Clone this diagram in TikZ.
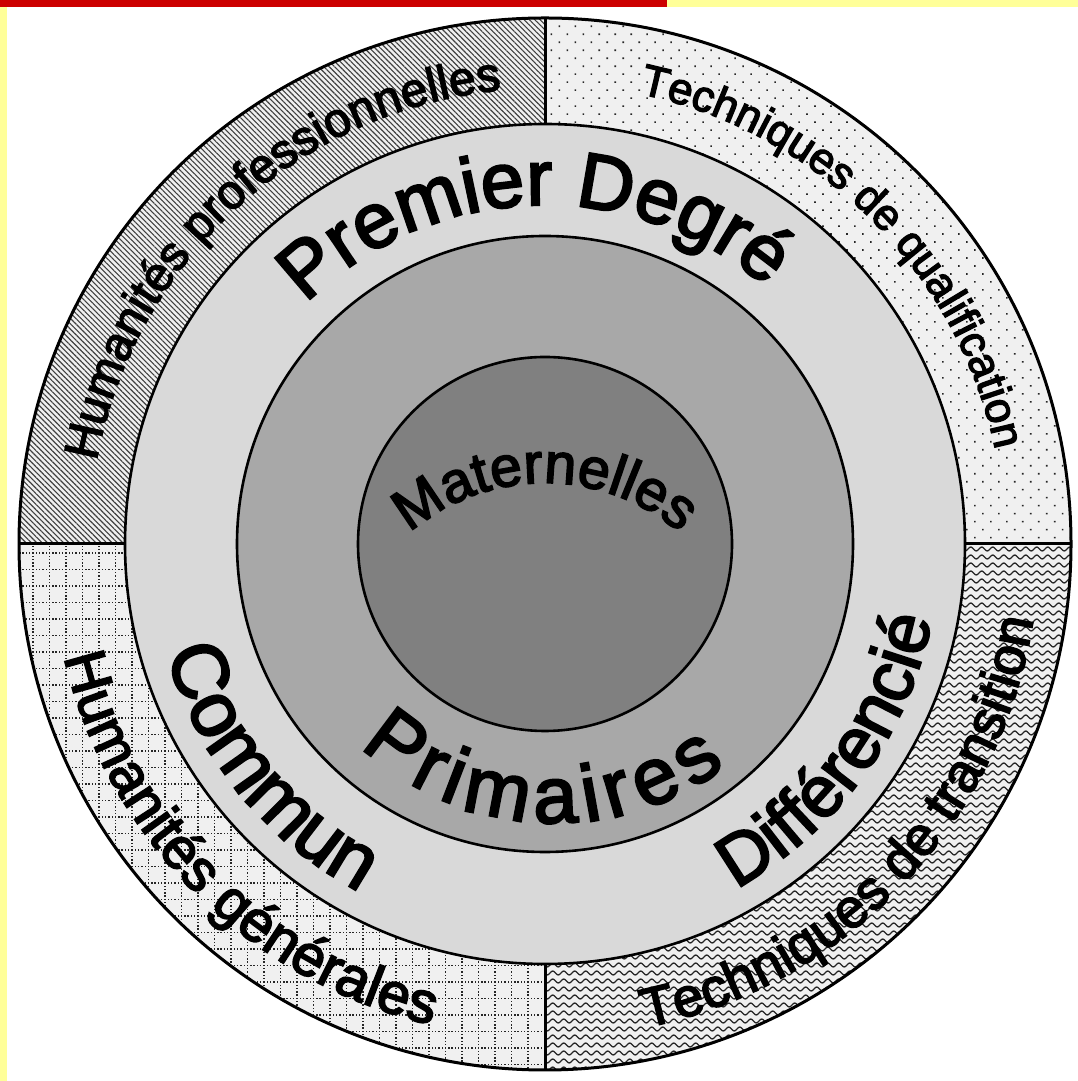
\documentclass[tikz,border=0pt]{standalone}
\usepackage{fontspec}
\setmainfont{Liberation Sans}
\newfontfamily\diagfont{Liberation Sans}[FakeBold=3]
\usetikzlibrary{decorations.text,patterns.meta}

\definecolor{ringlight}{HTML}{D9D9D9}
\definecolor{ringmid}{HTML}{A8A8A8}
\definecolor{ringdark}{HTML}{808080}
\definecolor{quadbg}{HTML}{F0F0F0}
\definecolor{barred}{HTML}{CC0000}
\definecolor{baryellow}{HTML}{FFFF99}

\newcommand\fontOuterA{\diagfont\fontsize{48}{50}\selectfont}
\newcommand\fontOuterB{\diagfont\fontsize{44}{50}\selectfont}
\newcommand\fontOuterC{\diagfont\fontsize{58}{60}\selectfont}
\newcommand\fontOuterD{\diagfont\fontsize{55}{58}\selectfont}
\newcommand\fontMidRing{\diagfont\fontsize{78}{80}\selectfont}
\newcommand\fontDiff{\diagfont\fontsize{72}{80}\selectfont}
\newcommand\fontPrim{\diagfont\fontsize{80}{84}\selectfont}
\newcommand\fontInner{\diagfont\fontsize{57}{60}\selectfont}

\tikzdeclarepattern{
  name=wavy, type=uncolored,
  bounding box={(-1pt,-1pt) and (12pt,9pt)},
  tile size={(11pt,8pt)},
  code={\draw[line width=1.3pt] (0,4pt) sin (2.75pt,6pt) cos (5.5pt,4pt) sin (8.25pt,2pt) cos (11pt,4pt);}
}
\tikzdeclarepattern{
  name=dotgrid, type=uncolored,
  bounding box={(-1pt,-1pt) and (17.5pt,17.5pt)},
  tile size={(16.5pt,16.5pt)},
  code={\foreach \i in {0,1,2,3,4}{\fill (\i*3.3pt-0.7pt,-0.7pt) rectangle ++(1.4pt,1.4pt); \fill (-0.7pt,\i*3.3pt-0.7pt) rectangle ++(1.4pt,1.4pt);}}
}

\tikzset{
  ringline/.style={line width=2.6pt},
  outerline/.style={line width=3pt},
  divider/.style={line width=3pt},
  quad/.style={preaction={fill=quadbg}, pattern color=black!85},
  primchar/.style={font=\fontPrim, anchor=base, inner sep=0pt, outer sep=0pt},
}

\begin{document}
\begin{tikzpicture}[x=1pt,y=1pt]
\useasboundingbox (0,0) rectangle (1078,1081);
\fill[white] (0,0) rectangle (1078,1081);
% border bars
\fill[barred] (0,1074) rectangle (667,1081);
\fill[baryellow] (667,1074) rectangle (1078,1081);
\fill[baryellow] (0,0) rectangle (7,1074);

\begin{scope}[shift={(545pt,537pt)}]
  \coordinate (O) at (0,0);
  % quadrants of outer ring
  \path[quad, pattern={Lines[angle=-45,distance=3.8pt,line width=1.1pt]}, pattern color=black!75]
    (O) -- (90:526pt) arc[start angle=90,end angle=180,radius=526pt] -- cycle;
  \path[quad, pattern={Dots[distance=11.3pt,angle=45,radius=1.1pt]}]
    (O) -- (0:526pt) arc[start angle=0,end angle=90,radius=526pt] -- cycle;
  \path[quad, pattern=dotgrid]
    (O) -- (180:526pt) arc[start angle=180,end angle=270,radius=526pt] -- cycle;
  \path[quad, pattern=wavy]
    (O) -- (270:526pt) arc[start angle=270,end angle=360,radius=526pt] -- cycle;
  \draw[outerline] (O) circle (526pt);
  % dividers
  \coordinate (dN1) at (90:418pt);  \coordinate (dN2) at (90:526pt);
  \coordinate (dS1) at (270:418pt); \coordinate (dS2) at (270:526pt);
  \coordinate (dW1) at (180:418pt); \coordinate (dW2) at (180:526pt);
  \coordinate (dE1) at (0:418pt);   \coordinate (dE2) at (0:526pt);
  \draw[divider] (dN1) -- (dN2);
  \draw[divider] (dS1) -- (dS2);
  \draw[divider] (dW1) -- (dW2);
  \draw[divider] (dE1) -- (dE2);
  % disks
  \draw[ringline, fill=ringlight] (O) circle (420pt);
  \draw[ringline, fill=ringmid] (O) circle (308pt);
  \draw[ringline, fill=ringdark] (O) circle (187pt);

  % outer ring texts
  \path[decorate, decoration={text along path, text align=center,
      text={|\fontOuterA|Humanités professionnelles}}]
    (215:456pt) arc[start angle=215,end angle=50,radius=456pt];
  \path[decorate, decoration={text along path, text align=center,
      text={|\fontOuterB|Techniques de qualification}}]
    (127:460pt) arc[start angle=127,end angle=-37,radius=460pt];
  \path[decorate, decoration={text along path, text align=center,
      text={|\fontOuterC|Humanités générales}}]
    (144:494pt) arc[start angle=144,end angle=306,radius=494pt];
  \path[decorate, decoration={text along path, text align=center,
      text={|\fontOuterD|Techniques de transition}}]
    (-124:494pt) arc[start angle=-124,end angle=37,radius=494pt];

  % light ring texts
  \path[decorate, decoration={text along path, text align=center,
      text={|\fontMidRing|Premier Degré}}]
    (172:339pt) arc[start angle=172,end angle=12,radius=339pt];
  \path[decorate, decoration={text along path, text align=center,
      text={|\fontMidRing|Commun}}]
    (139:394pt) arc[start angle=139,end angle=299,radius=394pt];
  \path[decorate, decoration={text along path, text align=center,
      text={|\fontDiff|Différencié}}]
    (-116:394pt) arc[start angle=-116,end angle=44,radius=394pt];

  % medium ring text (letter-spaced, placed letter by letter)
  \foreach \ang/\rad/\ch/\nm in {233.2/274/P/pr1, 243.0/275/r/pr2, 249.0/276/i/pr3,
      259.2/277/m/pr4, 272.3/279/a/pr5, 280.2/281/i/pr6, 286.1/282/r/pr7,
      295.0/284/e/pr8, 305.2/286/s/pr9}{
    \node[primchar, rotate=\ang+90] (\nm) at (\ang:\rad pt) {\ch};
  }

  % inner text
  \path[decorate, decoration={text along path, text align=center,
      text={|\fontInner|Maternelles}}]
    ([shift={(0,-147pt)}]170:208pt) arc[start angle=170,end angle=10,radius=208pt];
\end{scope}
\end{tikzpicture}
\end{document}
